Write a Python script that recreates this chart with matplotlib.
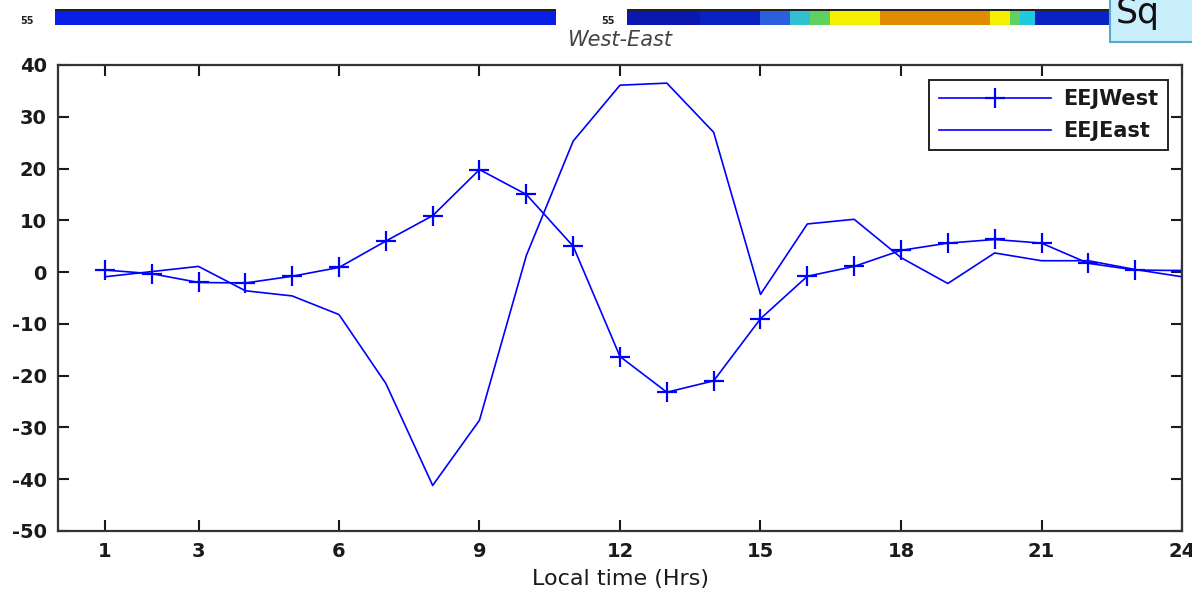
import matplotlib
matplotlib.use("Agg")
import matplotlib.pyplot as plt
from matplotlib.patches import Rectangle, FancyBboxPatch

plt.rcParams["axes.unicode_minus"] = False

# ---- data ----
hours = list(range(1, 25))
eej_west = [0.4, -0.3, -2.0, -2.1, -0.8, 0.9, 6.0, 10.9, 19.8, 15.0, 5.0, -16.3,
            -23.2, -21.0, -9.0, -0.8, 1.1, 4.2, 5.6, 6.3, 5.6, 1.7, 0.4, 0.3]
eej_east = [-0.9, 0.1, 1.1, -3.6, -4.6, -8.2, -21.5, -41.2, -28.6, 3.2, 25.3, 36.1,
            36.5, 27.0, -4.3, 9.3, 10.2, 2.8, -2.2, 3.7, 2.2, 2.2, 0.5, -0.9]
xticks = [1, 3, 6, 9, 12, 15, 18, 21, 24]
yticks = [40, 30, 20, 10, 0, -10, -20, -30, -40, -50]
series_labels = ["EEJWest", "EEJEast"]
title = "West-East"
xlabel = "Local time (Hrs)"

W, H = 1192, 599
fig = plt.figure(figsize=(W / 100, H / 100), dpi=100)
FONT = "DejaVu Sans"

def fx(px):
    return px / W

def fy(py):
    return 1 - py / H

ax = fig.add_axes([fx(58), fy(531), fx(1182) - fx(58), fy(65) - fy(531)])

blue = "#0000ff"
ax.plot(hours, eej_west, color=blue, lw=1.2, marker="+", markersize=15,
        markeredgewidth=1.6, label=series_labels[0])
ax.plot(hours, eej_east, color=blue, lw=1.2, label=series_labels[1])

ax.set_xlim(0, 24)
ax.set_ylim(-50, 40)
ax.set_xticks(xticks)
ax.set_yticks(yticks)
ax.tick_params(direction="in", length=8, width=1.5, top=True, right=True,
               labelsize=14, pad=8, colors="#1a1a1a")
for lab in ax.get_xticklabels() + ax.get_yticklabels():
    lab.set_fontfamily(FONT)
    lab.set_fontweight("bold")
for sp in ax.spines.values():
    sp.set_linewidth(1.6)
    sp.set_color("#333333")

ax.set_xlabel(xlabel, fontsize=16, family=FONT, color="#1a1a1a", labelpad=6)

fig.text(fx(620), fy(40), title, fontsize=15, style="italic", family=FONT,
         color="#444444", ha="center", va="center")

leg = ax.legend(loc="upper right", bbox_to_anchor=(fx(1168), fy(80)),
                bbox_transform=fig.transFigure, fancybox=False, framealpha=1,
                edgecolor="#222222", prop={"family": FONT, "size": 15, "weight": "bold"},
                handlelength=5.4, handletextpad=0.6, borderpad=0.45, labelspacing=0.55,
                borderaxespad=0)
leg.get_frame().set_linewidth(1.4)
for t in leg.get_texts():
    t.set_color("#1a1a1a")

# ---- cropped slide fragments at the top ----
def frect(x0, y0, x1, y1, **kw):
    r = Rectangle((fx(x0), fy(y1)), fx(x1) - fx(x0), fy(y0) - fy(y1),
                  transform=fig.transFigure, **kw)
    fig.add_artist(r)

frect(55, 9, 556, 25, facecolor="#0a1fe6", edgecolor="none")
frect(55, 9, 556, 10.5, facecolor="#222222", edgecolor="none")
segs = [(627, 700, "#0a18b0"), (700, 760, "#0a22c0"), (760, 790, "#2a60e0"),
        (790, 810, "#30c0d0"), (810, 830, "#60d060"), (830, 880, "#f4f000"),
        (880, 990, "#e08c00"), (990, 1010, "#f4f000"), (1010, 1020, "#60d060"),
        (1020, 1035, "#20c8e0"), (1035, 1110, "#0a22c0")]
for a, b, c in segs:
    frect(a, 9, b, 25, facecolor=c, edgecolor="none")
frect(627, 9, 1110, 10.5, facecolor="#222222", edgecolor="none")
fig.text(fx(27), fy(21), "55", fontsize=7, weight="bold", family=FONT,
         ha="center", va="center", color="#222222")
fig.text(fx(608), fy(21), "55", fontsize=7, weight="bold", family=FONT,
         ha="center", va="center", color="#222222")

sq = FancyBboxPatch((fx(1110), fy(42)), fx(1200) - fx(1110), fy(-2) - fy(42),
                    boxstyle="square,pad=0", transform=fig.transFigure,
                    facecolor="#c8effb", edgecolor="#58a8c8", lw=1.5)
fig.add_artist(sq)
fig.text(fx(1116), fy(13), "Sq", fontsize=25, family=FONT, color="#111111",
         ha="left", va="center")

fig.savefig("out.png", dpi=100)
